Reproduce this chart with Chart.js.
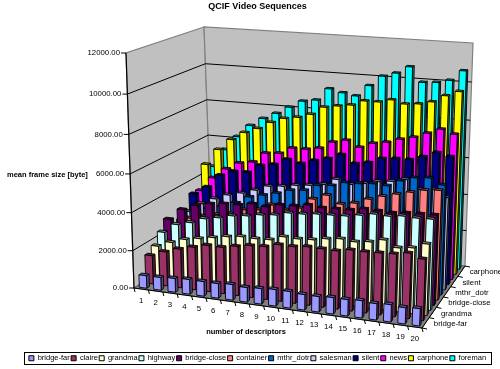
<!DOCTYPE html>
<html>
<head>
<meta charset="utf-8">
<title>QCIF Video Sequences</title>
<script src="https://cdn.jsdelivr.net/npm/chart.js@4"></script>
<style>
  body { margin: 0; background: #fff; }
  canvas { display: block; }
</style>
</head>
<body>
<canvas id="frameSizeChart" width="500" height="369"></canvas>
<script>
const descriptors = ['1','2','3','4','5','6','7','8','9','10','11','12','13','14','15','16','17','18','19','20'];
const sequences = ['bridge-far','claire','grandma','highway','bridge-close','container','mthr_dotr','salesman','silent','news','carphone','foreman'];
const depthLabels = ['bridge-far','','grandma','','bridge-close','','mthr_dotr','','silent','','carphone',''];
const sequenceColors = ['#9999FF','#993366','#FFFFCC','#CCFFFF','#660066','#FF8080','#0066CC','#CCCCFF','#000080','#FF00FF','#FFFF00','#00FFFF'];

const bridgeFar = [670,680,730,780,775,770,820,765,810,860,860,805,800,845,845,885,835,880,825,875];
const claire = [1525,1825,2070,2265,2455,2450,2590,2725,2765,2955,2945,3030,3015,3000,3135,3130,3165,3200,3330,3120];
const grandma = [1820,2120,2370,2510,2655,2795,2885,2870,2905,3145,3125,3170,3305,3390,3325,3410,3595,3280,3365,3645];
const highway = [2360,2870,3060,3360,3495,3685,3770,3905,3985,4175,4200,4285,4315,4350,4475,4610,4585,4670,4645,4675];
const bridgeClose = [2855,3470,3765,3955,4040,4065,4200,4125,4310,4340,4470,4395,4420,4450,4580,4555,4530,4610,4635,4660];
const container = [2300,2800,3000,3165,3300,3595,3680,4020,3840,4020,4570,4850,4465,4590,4875,5100,5285,5455,5630,5700];
const mthrDotr = [2400,3000,3200,3400,3675,4075,4255,4435,4670,4745,5075,5150,5375,5395,5465,5435,5760,5985,6050,5760];
const salesman = [2655,3175,3525,3820,4005,4245,4535,4610,4735,4810,4935,5275,5080,5210,5380,5455,5625,5180,5245,4905];
const silent = [3430,3890,4625,4915,4930,5385,5510,5850,5700,5930,6105,6385,5975,6095,6375,6440,6450,6670,6945,6800];
const news = [3405,4200,4775,5175,5305,5860,5925,6270,6280,6400,6790,6955,6645,6920,7040,7260,7425,7695,7965,7760];
const carphone = [4690,5600,6225,6680,6965,7360,7640,7760,7980,8420,8540,8645,8920,8920,9085,8920,8980,9140,9510,9775];
const foreman = [4370,5405,6205,6890,7340,7680,8075,8460,8575,9235,9075,8960,9560,10105,10315,10690,9930,9975,10130,10670];
const sequenceValues = [bridgeFar,claire,grandma,highway,bridgeClose,container,mthrDotr,salesman,silent,news,carphone,foreman];

// corners of the 3D box on the canvas: [front-left, front-right, back-left, back-right]
const floorCorners = [[134,288],[422,328],[212,237],[465,266]];
const topCorners = [[126,53],[431,78],[204,27],[473,43]];
const perspective = 0.06;
const barDepth = 0.42;

const lerp = (a, b, t) => a + (b - a) * t;

// u along categories, w along sequences, v up the value axis, all 0..1
function project(u, w, v) {
  const pick = (c, k) => lerp(lerp(c[0][k], c[1][k], u), lerp(c[2][k], c[3][k], u), w);
  const h = v / (1 + perspective * (1 - v));
  return [lerp(pick(floorCorners, 0), pick(topCorners, 0), h), lerp(pick(floorCorners, 1), pick(topCorners, 1), h)];
}

function shade(hex, f) {
  const n = parseInt(hex.slice(1), 16);
  return `rgb(${((n >> 16) & 255) * f},${((n >> 8) & 255) * f},${(n & 255) * f})`;
}

function poly(ctx, pts, fill, stroke, width) {
  ctx.beginPath();
  pts.forEach((p, i) => i ? ctx.lineTo(p[0], p[1]) : ctx.moveTo(p[0], p[1]));
  ctx.closePath();
  if (fill) { ctx.fillStyle = fill; ctx.fill(); }
  if (stroke) { ctx.strokeStyle = stroke; ctx.lineWidth = width; ctx.stroke(); }
}

function line(ctx, a, b, color, width) {
  ctx.beginPath();
  ctx.moveTo(a[0], a[1]);
  ctx.lineTo(b[0], b[1]);
  ctx.strokeStyle = color;
  ctx.lineWidth = width;
  ctx.stroke();
}

const box3d = {
  id: 'box3d',
  // walls, floor, gridlines and the three axes
  beforeDatasetsDraw(chart) {
    const { ctx } = chart;
    const { x, y, z } = chart.scales;
    ctx.save();
    poly(ctx, [project(0,0,0), project(0,1,0), project(0,1,1), project(0,0,1)], '#C0C0C0', '#808080', 1.2);
    poly(ctx, [project(0,1,0), project(1,1,0), project(1,1,1), project(0,1,1)], '#C0C0C0', '#808080', 1.2);
    poly(ctx, [project(0,0,0), project(1,0,0), project(1,1,0), project(0,1,0)], '#808080', '#606060', 1);

    ctx.font = '7.8px "Liberation Sans"';
    ctx.fillStyle = '#000';
    ctx.textBaseline = 'middle';

    ctx.textAlign = 'right';
    y.ticks.forEach(t => {
      const v = y.getDecimalForPixel(y.getPixelForValue(t.value));
      const a = project(0,0,v);
      if (v > 0.001 && v < 0.999) {
        line(ctx, a, project(0,1,v), '#000', 1);
        line(ctx, project(0,1,v), project(1,1,v), '#000', 1);
      }
      line(ctx, [a[0] - 5, a[1]], a, '#000', 1);
      ctx.fillText(t.label, a[0] - 6, a[1]);
    });
    line(ctx, project(0,0,0), project(0,0,1), '#000', 1.2);
    line(ctx, project(0,0,0), project(1,0,0), '#000', 1);
    line(ctx, project(1,0,0), project(1,1,0), '#000', 1);

    ctx.textAlign = 'center';
    x.getLabels().forEach((label, i) => {
      const a = project(i / 20, 0, 0);
      line(ctx, a, [a[0] + 1, a[1] + 4], '#000', 1);
      const c = project(x.getDecimalForPixel(x.getPixelForValue(i)), 0, 0);
      ctx.fillText(label, c[0], c[1] + 12);
    });
    line(ctx, project(1,0,0), [project(1,0,0)[0] + 1, project(1,0,0)[1] + 4], '#000', 1);

    ctx.textAlign = 'left';
    z.getLabels().forEach((label, i) => {
      const w = z.getDecimalForPixel(z.getPixelForValue(i));
      if (label) {
        const c = project(1, w, 0);
        ctx.fillText(label, c[0] + 10, c[1] - 1.5);
      }
      if (i % 2 === 0) {
        const a = project(1, i / 12, 0);
        line(ctx, a, [a[0] + 5, a[1] + 1], '#000', 1);
      }
    });
    const end = project(1,1,0);
    line(ctx, end, [end[0] + 5, end[1] + 1], '#000', 1);

    ctx.font = 'bold 7.5px "Liberation Sans"';
    ctx.textAlign = 'left';
    ctx.fillText('mean frame size [byte]', 7, 174.5);
    ctx.textAlign = 'center';
    ctx.fillText('number of descriptors', 246, 332);
    ctx.restore();
  },
  // one box per bar element, in place of the flat rectangle
  beforeDatasetDraw(chart, args) {
    const { ctx } = chart;
    const { x, y, z } = chart.scales;
    const ds = chart.data.datasets[args.index];
    const zc = z.getDecimalForPixel(z.getPixelForValue(args.index));
    const halfDepth = barDepth / 12 / 2;
    const w0 = zc - halfDepth, w1 = zc + halfDepth;
    ctx.save();
    ctx.lineJoin = 'round';
    args.meta.data.forEach(bar => {
      const u0 = x.getDecimalForPixel(bar.x - bar.width / 2);
      const u1 = x.getDecimalForPixel(bar.x + bar.width / 2);
      const v = y.getDecimalForPixel(bar.y);
      poly(ctx, [project(u1,w0,0), project(u1,w1,0), project(u1,w1,v), project(u1,w0,v)], shade(ds.backgroundColor, 0.5), '#000', 0.9);
      poly(ctx, [project(u0,w0,v), project(u1,w0,v), project(u1,w1,v), project(u0,w1,v)], shade(ds.backgroundColor, 0.6), '#000', 0.9);
      poly(ctx, [project(u0,w0,0), project(u1,w0,0), project(u1,w0,v), project(u0,w0,v)], ds.backgroundColor, '#000', 0.9);
    });
    ctx.restore();
    return false;
  },
  // frame round the legend
  afterDraw(chart) {
    const { ctx } = chart;
    ctx.save();
    ctx.strokeStyle = '#000';
    ctx.lineWidth = 1;
    ctx.strokeRect(24.5, 352.5, 467, 12);
    ctx.restore();
  }
};

Chart.defaults.font.family = '"Liberation Sans"';
Chart.defaults.color = '#000';

new Chart(document.getElementById('frameSizeChart'), {
  type: 'bar',
  data: {
    labels: descriptors,
    datasets: sequences.map((name, i) => ({
      label: name,
      data: sequenceValues[i],
      backgroundColor: sequenceColors[i],
      borderColor: '#000',
      borderWidth: 1,
      grouped: false,
      barPercentage: 0.52,
      categoryPercentage: 1,
      xAxisID: 'x',
      yAxisID: 'y'
    }))
  },
  options: {
    responsive: false,
    animation: false,
    layout: { padding: { left: 15, bottom: -3 } },
    scales: {
      x: { type: 'category', display: false },
      y: { type: 'linear', display: false, min: 0, max: 12000, ticks: { stepSize: 2000, callback: v => v.toFixed(2) } },
      z: { type: 'category', axis: 'x', position: 'bottom', display: false, offset: true, labels: depthLabels }
    },
    plugins: {
      title: {
        display: true,
        text: 'QCIF Video Sequences',
        font: { size: 9, weight: 'bold' },
        padding: { top: 1, bottom: 4 }
      },
      legend: {
        position: 'bottom',
        labels: { font: { size: 7.5 }, boxWidth: 5, boxHeight: 5, padding: 1.4 }
      },
      tooltip: { enabled: false }
    }
  },
  plugins: [box3d]
});
</script>
</body>
</html>
